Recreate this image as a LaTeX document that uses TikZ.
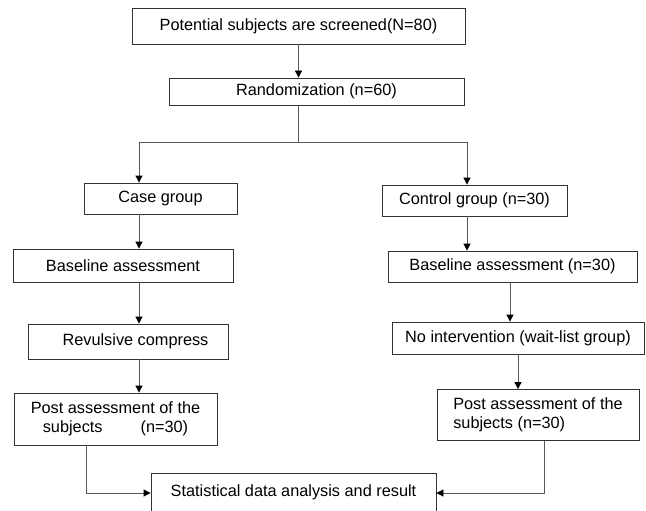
\documentclass[tikz,border=0pt]{standalone}
\usepackage{fontspec}
\setmainfont{Liberation Sans}
\usetikzlibrary{arrows.meta}
\tikzset{
  box/.style={draw=black!80, line width=0.8pt, rectangle, inner sep=0pt, font=\fontsize{16.3}{19.5}\selectfont},
  conn/.style={draw=black!65, line width=0.8pt},
  arr/.style={conn, -{Triangle[length=7pt,width=7pt,fill=black,color=black]}},
}
\begin{document}
\begin{tikzpicture}[x=1pt,y=-1pt]
\clip (0,0) rectangle (646,511);
\fill[white] (0,0) rectangle (646,511);
% boxes
\node[box, minimum width=333pt, minimum height=36pt] (top) at (298.5,26) {Potential subjects are screened(N=80)};
\node[box, minimum width=295pt, minimum height=27pt] (rand) at (316.5,91.5) {Randomization (n=60)\hspace{16pt}};
\node[box, minimum width=153pt, minimum height=31pt] (case) at (160.5,198.5) {Case group};
\node[box, minimum width=185pt, minimum height=31pt] (ctrl) at (474.5,200.5) {Control group (n=30)};
\node[box, minimum width=220pt, minimum height=33pt] (base1) at (123,265.5) {Baseline assessment};
\node[box, minimum width=249pt, minimum height=31pt] (base2) at (512.5,266.5) {Baseline assessment (n=30)};
\node[box, minimum width=200pt, minimum height=35pt] (rev) at (128,341.5) {\hspace{15pt}Revulsive compress};
\node[box, minimum width=252pt, minimum height=32pt] (noint) at (518,338) {No intervention (wait-list group)};
\node[box, minimum width=203pt, minimum height=52pt, align=center] (post1) at (115.5,419) {Post assessment of the\\subjects\hspace{38pt}(n=30)};
\node[box, minimum width=202pt, minimum height=51pt, align=left] (post2) at (538,415) {Post assessment of the\\subjects (n=30)};
\node[box, minimum width=285pt, anchor=base, text height=23pt, text depth=34pt] (stat) at (293.5,496) {Statistical data analysis and result};
% coordinates
\coordinate (sp) at (298.5,142);
\coordinate (lb) at (139,142);
\coordinate (rb) at (467,142);
\coordinate (r2) at (510,0);
\coordinate (jl) at (86,493);
\coordinate (jr) at (544,493);
% connectors
\draw[arr] (top.south) -- (top.south |- rand.north);
\draw[conn] (rand.south -| sp) -- (sp);
\draw[conn] (lb) -- (rb);
\draw[arr] (lb) -- (lb |- case.north);
\draw[arr] (rb) -- (rb |- ctrl.north);
\draw[arr] (case.south -| lb) -- (base1.north -| lb);
\draw[arr] (base1.south -| lb) -- (rev.north -| lb);
\draw[arr] (rev.south -| lb) -- (post1.north -| lb);
\draw[arr] (ctrl.south -| rb) -- (base2.north -| rb);
\draw[arr] (base2.south -| r2) -- (noint.north -| r2);
\draw[arr] (noint.south) -- (noint.south |- post2.north);
\draw[arr] (post1.south -| jl) -- (jl) -- (jl -| stat.west);
\draw[arr] (post2.south -| jr) -- (jr) -- (jr -| stat.east);
\end{tikzpicture}
\end{document}
